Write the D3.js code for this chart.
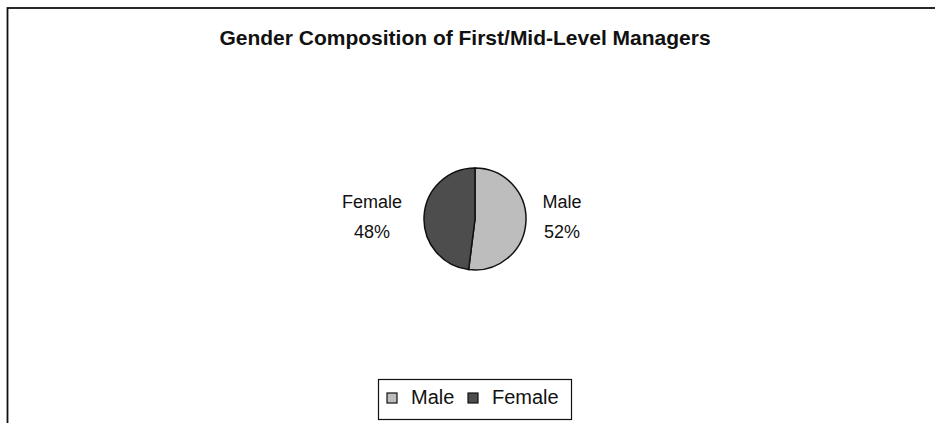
<!DOCTYPE html>
<html>
<head>
<meta charset="UTF-8">
<script src="https://cdn.jsdelivr.net/npm/d3@7"></script>
<style>
body{
    margin:0;
    background-color:#fff;
    font-family: "Liberation Sans", Arial, Helvetica, sans-serif;
}
</style>
</head>
<body>
<script>

var categories = ["Male", "Female"];
var values = [52, 48];
var colors = ["#bdbdbd", "#4d4d4d"];
var title = "Gender Composition of First/Mid-Level Managers";

var width = 935,
    height = 423;

var svg = d3.select("body").append("svg")
    .attr("width", width)
    .attr("height", height);

// chart frame (runs off the right and bottom)
svg.append("rect")
    .attr("x", 7.5)
    .attr("y", 8)
    .attr("width", 940)
    .attr("height", 430)
    .attr("fill", "none")
    .attr("stroke", "#111")
    .attr("stroke-width", 1.8);

svg.append("text")
    .attr("x", 465)
    .attr("y", 45)
    .attr("font-size", 21)
    .attr("font-weight", "bold")
    .attr("text-anchor", "middle")
    .attr("fill", "#111")
    .text(title);

var cx = 475, cy = 219, r = 51;

var pie = d3.pie().sort(null).value(function(d){ return d; });
var arcs = pie(values);
var arc = d3.arc().innerRadius(0).outerRadius(r);

var g = svg.append("g").attr("transform", "translate(" + cx + "," + cy + ")");

g.selectAll(".slice")
    .data(arcs)
    .enter().append("path")
    .attr("class", "slice")
    .attr("d", arc)
    .attr("fill", function(d, i){ return colors[i]; })
    .attr("stroke", "#111")
    .attr("stroke-width", 1.5);

// data labels, either side of the pie
var labelX = [562, 372];
categories.forEach(function(c, i){
    var t = svg.append("text")
        .attr("font-size", 18)
        .attr("text-anchor", "middle")
        .attr("fill", "#111");
    t.append("tspan").attr("x", labelX[i]).attr("y", 208).text(c);
    t.append("tspan").attr("x", labelX[i]).attr("y", 238).text(values[i] + "%");
});

// legend
svg.append("rect")
    .attr("x", 378.5)
    .attr("y", 379.5)
    .attr("width", 193)
    .attr("height", 40)
    .attr("fill", "#fff")
    .attr("stroke", "#111")
    .attr("stroke-width", 1.2);

var legX = [387, 468];
categories.forEach(function(c, i){
    svg.append("rect")
        .attr("x", legX[i])
        .attr("y", 393)
        .attr("width", 10)
        .attr("height", 10)
        .attr("fill", colors[i])
        .attr("stroke", "#111")
        .attr("stroke-width", 1.2);
    svg.append("text")
        .attr("x", legX[i] + 24)
        .attr("y", 404)
        .attr("font-size", 20)
        .attr("fill", "#111")
        .text(c);
});

</script>
</body>
</html>
